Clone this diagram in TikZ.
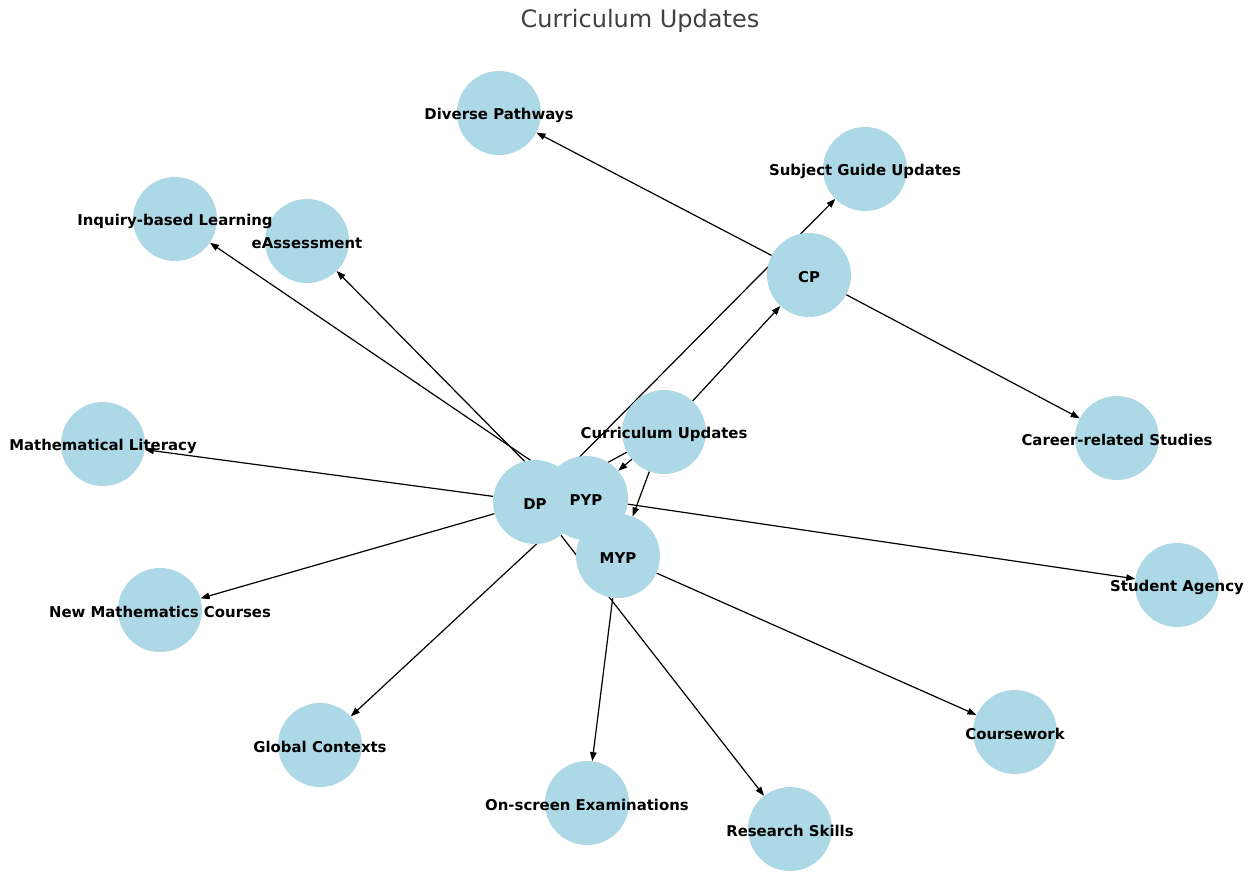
\documentclass[tikz,border=0pt]{standalone}
\usepackage{fontspec}
\setmainfont{DejaVu Sans}
\usetikzlibrary{arrows.meta}
\definecolor{nodeblue}{HTML}{ADD8E6}
\definecolor{titlegray}{HTML}{404040}
\tikzset{
  vert/.style={circle, fill=nodeblue, draw=none, minimum size=84pt, inner sep=0pt},
  lbl/.style={font=\fontsize{14.9}{16}\selectfont\bfseries, text=black, inner sep=0pt, yshift=-2pt},
  edge/.style={draw=black, line width=1.2pt, -{Triangle[length=9pt,width=6.5pt]}},
}
\pgfdeclarelayer{bg}
\pgfsetlayers{bg,main}
\begin{document}
\begin{tikzpicture}[x=1pt,y=-1pt]
\useasboundingbox (0,0) rectangle (1253,871);
\node[font=\fontsize{24}{28}\selectfont, text=titlegray] (title) at (640,21) {Curriculum Updates};
% circles
\node[vert] (dpw) at (499,113) {};
\node[vert] (sgu) at (865,169) {};
\node[vert] (ibl) at (175,219) {};
\node[vert] (eas) at (307,241) {};
\node[vert] (cp)  at (809,275) {};
\node[vert] (cu)  at (664,432) {};
\node[vert] (crs) at (1117,438) {};
\node[vert] (ml)  at (103,444) {};
\node[vert] (dp)  at (535,502) {};
\node[vert] (pyp) at (586,498) {};
\node[vert] (myp) at (618,556) {};
\node[vert] (sa)  at (1177,585) {};
\node[vert] (nmc) at (160,610) {};
\node[vert] (gc)  at (320,745) {};
\node[vert] (cw)  at (1015,732) {};
\node[vert] (ose) at (587,803) {};
\node[vert] (rs)  at (790,829) {};
% edges (behind the circles)
\begin{pgfonlayer}{bg}
\path[edge] (cu) -- (pyp);
\path[edge] (cu) -- (myp);
\path[edge] (cu) -- (cp);
\path[edge] (cu) -- (dp);
\path[edge] (cp) -- (dpw);
\path[edge] (cp) -- (crs);
\path[edge] (pyp) -- (ibl);
\path[edge] (myp) -- (eas);
\path[edge] (dp) -- (ml);
\path[edge] (dp) -- (nmc);
\path[edge] (pyp) -- (gc);
\path[edge] (dp) -- (sgu);
\path[edge] (dp) -- (rs);
\path[edge] (pyp) -- (sa);
\path[edge] (myp) -- (ose);
\path[edge] (myp) -- (cw);
\end{pgfonlayer}
% labels
\node[lbl] at (dpw.center) {Diverse Pathways};
\node[lbl] at (sgu.center) {Subject Guide Updates};
\node[lbl] at (ibl.center) {Inquiry-based Learning};
\node[lbl] at (eas.center) {eAssessment};
\node[lbl] at (cp.center) {CP};
\node[lbl] at (cu.center) {Curriculum Updates};
\node[lbl] at (crs.center) {Career-related Studies};
\node[lbl] at (ml.center) {Mathematical Literacy};
\node[lbl] at (dp.center) {DP};
\node[lbl] at (pyp.center) {PYP};
\node[lbl] at (myp.center) {MYP};
\node[lbl] at (sa.center) {Student Agency};
\node[lbl] at (nmc.center) {New Mathematics Courses};
\node[lbl] at (gc.center) {Global Contexts};
\node[lbl] at (cw.center) {Coursework};
\node[lbl] at (ose.center) {On-screen Examinations};
\node[lbl] at (rs.center) {Research Skills};
\end{tikzpicture}
\end{document}
